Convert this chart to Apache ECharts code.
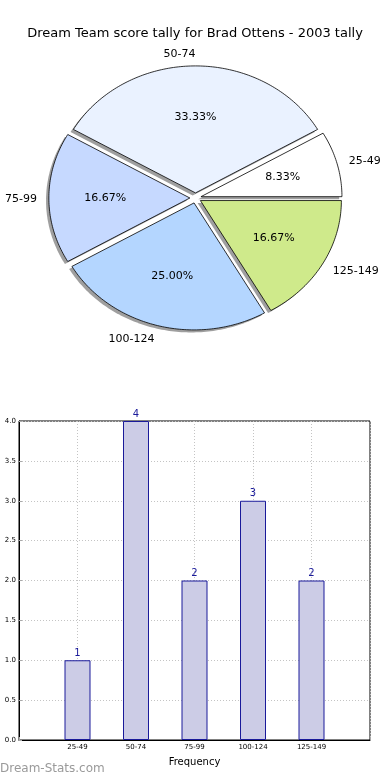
<!DOCTYPE html>
<html>
<head>
<meta charset="utf-8">
<script src="https://cdn.jsdelivr.net/npm/echarts@6/dist/echarts.min.js"></script>
<style>
html,body{margin:0;padding:0;background:#fff;}
#chart{width:390px;height:780px;}
</style>
</head>
<body>
<div id="chart"></div>
<script>
const titleText = 'Dream Team score tally for Brad Ottens - 2003 tally';
const categories = ['25-49', '50-74', '75-99', '100-124', '125-149'];
const counts = [1, 4, 2, 3, 2];
const pieColors = ['#ffffff', '#eaf2ff', '#c6d9ff', '#b4d6ff', '#cfea8b'];
const yTicks = [0, 0.5, 1, 1.5, 2, 2.5, 3, 3.5, 4];
const sourceText = 'Dream-Stats.com';

const FONT = 'DejaVu Sans';
const total = counts.reduce((a, b) => a + b, 0);
const explode = 0.04;
const starts = [];
let acc = 0;
counts.forEach(v => { starts.push(acc / total * 360); acc += v; });

function wedgePoints(api, idx, ox, oy) {
  const a1 = starts[idx];
  const a2 = a1 + counts[idx] / total * 360;
  const mid = (a1 + a2) / 2 * Math.PI / 180;
  const cx = explode * Math.cos(mid) + ox;
  const cy = explode * Math.sin(mid) + oy;
  const pts = [api.coord([cx, cy])];
  const steps = Math.max(8, Math.ceil(a2 - a1));
  for (let s = 0; s <= steps; s++) {
    const t = (a1 + (a2 - a1) * s / steps) * Math.PI / 180;
    pts.push(api.coord([cx + Math.cos(t), cy + Math.sin(t)]));
  }
  return { pts, mid, cx, cy };
}

const chart = echarts.init(document.getElementById('chart'), null, { renderer: 'canvas' });

const gridLine = { show: true, lineStyle: { color: '#c4c4c4', type: [1, 2], width: 1 } };

const option = {
  backgroundColor: '#fff',
  animation: false,
  title: {
    text: titleText,
    left: 'center',
    top: 22,
    textStyle: { fontFamily: FONT, fontSize: 13, fontWeight: 'normal', color: '#000' }
  },
  graphic: [{
    type: 'text',
    left: 0,
    top: 763,
    style: { text: sourceText, font: '12px "' + FONT + '"', fill: '#9a9a9a' }
  }],
  grid: [
    { left: 54.5, width: 282, top: 71, height: 254, show: false },
    { left: 19, right: 20, top: 421, bottom: 40, show: true, borderColor: '#000', borderWidth: 1, backgroundColor: 'transparent' }
  ],
  xAxis: [
    { gridIndex: 0, type: 'value', min: -1, max: 1, show: false },
    {
      gridIndex: 1, type: 'value', min: 0, max: 6, interval: 1,
      name: 'Frequency', nameLocation: 'middle', nameGap: 17,
      nameTextStyle: { fontFamily: FONT, fontSize: 10, color: '#000' },
      axisLine: { show: true, lineStyle: { color: '#000', width: 1 } },
      axisTick: { show: true, inside: true, length: 3, lineStyle: { color: '#aaa' } },
      axisLabel: {
        fontFamily: FONT, fontSize: 7, color: '#000', margin: 4,
        formatter: v => (v >= 1 && v <= categories.length) ? categories[v - 1] : ''
      },
      splitLine: gridLine
    }
  ],
  yAxis: [
    { gridIndex: 0, type: 'value', min: -1, max: 1, show: false },
    {
      gridIndex: 1, type: 'value', min: yTicks[0], max: yTicks[yTicks.length - 1], interval: 0.5,
      axisLine: { show: true, lineStyle: { color: '#000', width: 1 } },
      axisTick: { show: true, inside: true, length: 3, lineStyle: { color: '#aaa' } },
      axisLabel: { fontFamily: FONT, fontSize: 7, color: '#000', margin: 3, formatter: v => v.toFixed(1) },
      splitLine: gridLine
    }
  ],
  series: [
    {
      type: 'custom',
      coordinateSystem: 'cartesian2d',
      xAxisIndex: 0, yAxisIndex: 0,
      clip: false,
      silent: true,
      data: counts.map((v, i) => [i, v]),
      renderItem: (params, api) => {
        const idx = params.dataIndex;
        const w = wedgePoints(api, idx, -0.02, -0.02);
        return {
          type: 'polygon',
          shape: { points: w.pts },
          style: { fill: 'rgba(80,80,80,0.55)', stroke: null }
        };
      }
    },
    {
      type: 'custom',
      coordinateSystem: 'cartesian2d',
      xAxisIndex: 0, yAxisIndex: 0,
      clip: false,
      silent: true,
      data: counts.map((v, i) => [i, v]),
      renderItem: (params, api) => {
        const idx = params.dataIndex;
        const w = wedgePoints(api, idx, 0, 0);
        const pctPos = api.coord([w.cx + 0.6 * Math.cos(w.mid), w.cy + 0.6 * Math.sin(w.mid)]);
        const lblPos = api.coord([w.cx + 1.085 * Math.cos(w.mid), w.cy + 1.1 * Math.sin(w.mid)]);
        const pct = (counts[idx] / total * 100).toFixed(2) + '%';
        const leftAlign = Math.cos(w.mid) > 0.01;
        return {
          type: 'group',
          children: [
            {
              type: 'polygon',
              shape: { points: w.pts },
              style: { fill: pieColors[idx], stroke: '#000', lineWidth: 0.8 }
            },
            {
              type: 'text',
              x: pctPos[0], y: pctPos[1],
              style: { text: pct, fill: '#000', font: '11px "' + FONT + '"', align: 'center', verticalAlign: 'middle' }
            },
            {
              type: 'text',
              x: lblPos[0], y: lblPos[1] + 1,
              style: { text: categories[idx], fill: '#000', font: '11px "' + FONT + '"', align: leftAlign ? 'left' : 'right', verticalAlign: 'middle' }
            }
          ]
        };
      }
    },
    {
      type: 'bar',
      xAxisIndex: 1, yAxisIndex: 1,
      data: counts.map((v, i) => [i + 1, v]),
      barWidth: 26,
      itemStyle: { color: '#cccce6', borderColor: '#1a1a9a', borderWidth: 1 },
      label: {
        show: true, position: 'top', distance: 2,
        fontFamily: FONT, fontSize: 10, color: '#1a1a9a',
        formatter: p => String(p.value[1])
      }
    }
  ]
};
chart.setOption(option);
</script>
</body>
</html>
